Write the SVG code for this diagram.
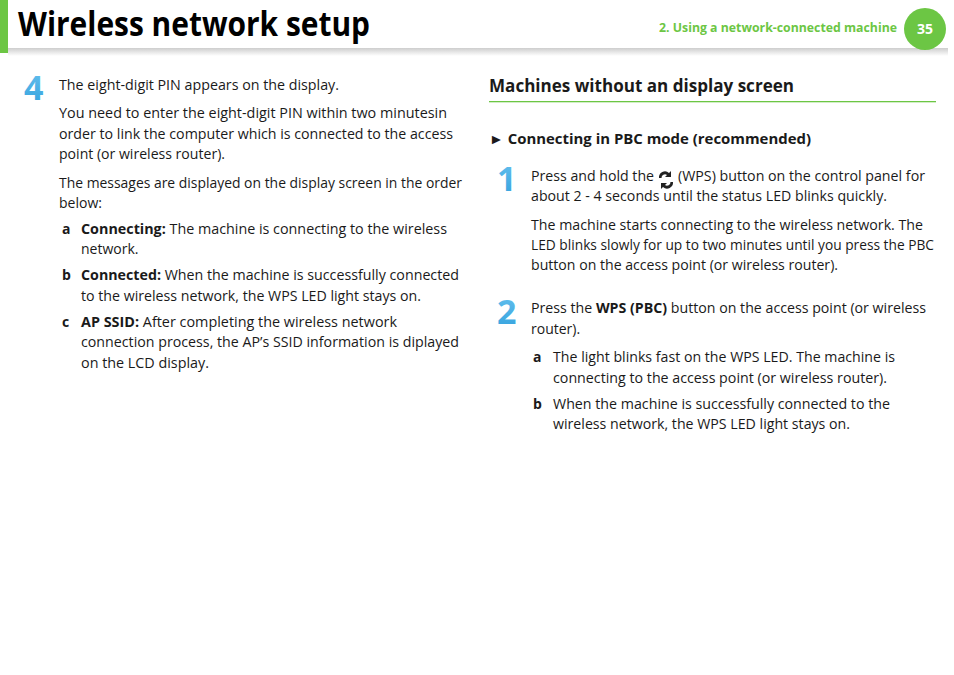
<svg xmlns="http://www.w3.org/2000/svg" width="954" height="675" viewBox="0 0 954 675">
<defs>
<linearGradient id="hd" x1="0" y1="0" x2="0" y2="1"><stop offset="0" stop-color="#b8b8b8"/><stop offset="1" stop-color="#fff"/></linearGradient>
<linearGradient id="num" x1="0" y1="0" x2="0" y2="1"><stop offset="0" stop-color="#6cc4f0"/><stop offset="1" stop-color="#2f9fdc"/></linearGradient>
</defs>
<style>
text{font-family:"Open Sans","Liberation Sans",sans-serif;font-size:14px;fill:#1a1a1a}
.b{font-weight:bold}
.n{font-size:34px;font-weight:bold;fill:url(#num)}
</style>
<rect width="954" height="675" fill="#fff"/>
<g id="header">
<rect x="0" y="0" width="8" height="53" fill="#6cc644"/>
<rect x="8" y="48" width="940" height="8" fill="url(#hd)" opacity="0.7"/>
<text x="18" y="36" style="font-size:34px;font-weight:bold;fill:#000" textLength="352" lengthAdjust="spacingAndGlyphs">Wireless network setup</text>
<text x="659" y="32" style="font-size:12px;font-weight:bold;fill:#6cc644" textLength="238" lengthAdjust="spacingAndGlyphs">2.  Using a network-connected machine</text>
<circle cx="925" cy="29" r="21" fill="#6cc644"/>
<text x="925" y="34" text-anchor="middle" style="font-size:14px;font-weight:bold;fill:#fff">35</text>
</g>
<g id="left">
<text x="24" y="100" class="n">4</text>
<text x="59" y="90" textLength="280" lengthAdjust="spacingAndGlyphs">The eight-digit PIN appears on the display.</text>
<text x="59" y="118" textLength="388" lengthAdjust="spacingAndGlyphs">You need to enter the eight-digit PIN within two minutesin</text>
<text x="59" y="139" textLength="394" lengthAdjust="spacingAndGlyphs">order to link the computer which is connected to the access</text>
<text x="59" y="159" textLength="166" lengthAdjust="spacingAndGlyphs">point (or wireless router).</text>
<text x="59" y="188" textLength="403" lengthAdjust="spacingAndGlyphs">The messages are displayed on the display screen in the order</text>
<text x="59" y="208">below:</text>
<text x="62" y="234" class="b">a</text>
<text x="81" y="234" textLength="366" lengthAdjust="spacingAndGlyphs"><tspan class="b">Connecting:</tspan> The machine is connecting to the wireless</text>
<text x="81" y="254">network.</text>
<text x="62" y="280" class="b">b</text>
<text x="81" y="280" textLength="378" lengthAdjust="spacingAndGlyphs"><tspan class="b">Connected:</tspan> When the machine is successfully connected</text>
<text x="81" y="301" textLength="340" lengthAdjust="spacingAndGlyphs">to the wireless network, the WPS LED light stays on.</text>
<text x="62" y="327" class="b">c</text>
<text x="81" y="327" textLength="316" lengthAdjust="spacingAndGlyphs"><tspan class="b">AP SSID:</tspan> After completing the wireless network</text>
<text x="81" y="347" textLength="378" lengthAdjust="spacingAndGlyphs">connection process, the AP’s SSID information is diplayed</text>
<text x="81" y="368" textLength="128" lengthAdjust="spacingAndGlyphs">on the LCD display.</text>
</g>
<g id="right">
<text x="489" y="92" style="font-size:17px;font-weight:bold" textLength="305" lengthAdjust="spacingAndGlyphs">Machines without an display screen</text>
<rect x="489" y="101" width="447" height="1.3" fill="#6cc644"/>
<text x="489" y="144" class="b" textLength="322" lengthAdjust="spacingAndGlyphs">► Connecting in PBC mode (recommended)</text>
<text x="497" y="191" class="n">1</text>
<text x="531" y="181" textLength="123" lengthAdjust="spacingAndGlyphs">Press and hold the</text>
<g id="wps-icon" fill="#222"><path d="M659 178 a6 6 0 0 1 10 -5 l2 -2 v6 h-6 l2 -2 a3.5 3.5 0 0 0 -5.5 3z"/><path d="M673 182 a6 6 0 0 1 -10 5 l-2 2 v-6 h6 l-2 2 a3.5 3.5 0 0 0 5.5 -3z"/></g>
<text x="678" y="181" textLength="247" lengthAdjust="spacingAndGlyphs">(WPS) button on the control panel for</text>
<text x="531" y="201" textLength="356" lengthAdjust="spacingAndGlyphs">about 2 - 4 seconds until the status LED blinks quickly.</text>
<text x="531" y="230" textLength="392" lengthAdjust="spacingAndGlyphs">The machine starts connecting to the wireless network. The</text>
<text x="531" y="250" textLength="403" lengthAdjust="spacingAndGlyphs">LED blinks slowly for up to two minutes until you press the PBC</text>
<text x="531" y="270" textLength="307" lengthAdjust="spacingAndGlyphs">button on the access point (or wireless router).</text>
<text x="497" y="324" class="n">2</text>
<text x="531" y="313" textLength="395" lengthAdjust="spacingAndGlyphs">Press the <tspan class="b">WPS (PBC)</tspan> button on the access point (or wireless</text>
<text x="531" y="334">router).</text>
<text x="533" y="362" class="b">a</text>
<text x="553" y="362" textLength="342" lengthAdjust="spacingAndGlyphs">The light blinks fast on the WPS LED. The machine is</text>
<text x="553" y="383" textLength="334" lengthAdjust="spacingAndGlyphs">connecting to the access point (or wireless router).</text>
<text x="533" y="409" class="b">b</text>
<text x="553" y="409" textLength="337" lengthAdjust="spacingAndGlyphs">When the machine is successfully connected to the</text>
<text x="553" y="429" textLength="297" lengthAdjust="spacingAndGlyphs">wireless network, the WPS LED light stays on.</text>
</g>
</svg>
